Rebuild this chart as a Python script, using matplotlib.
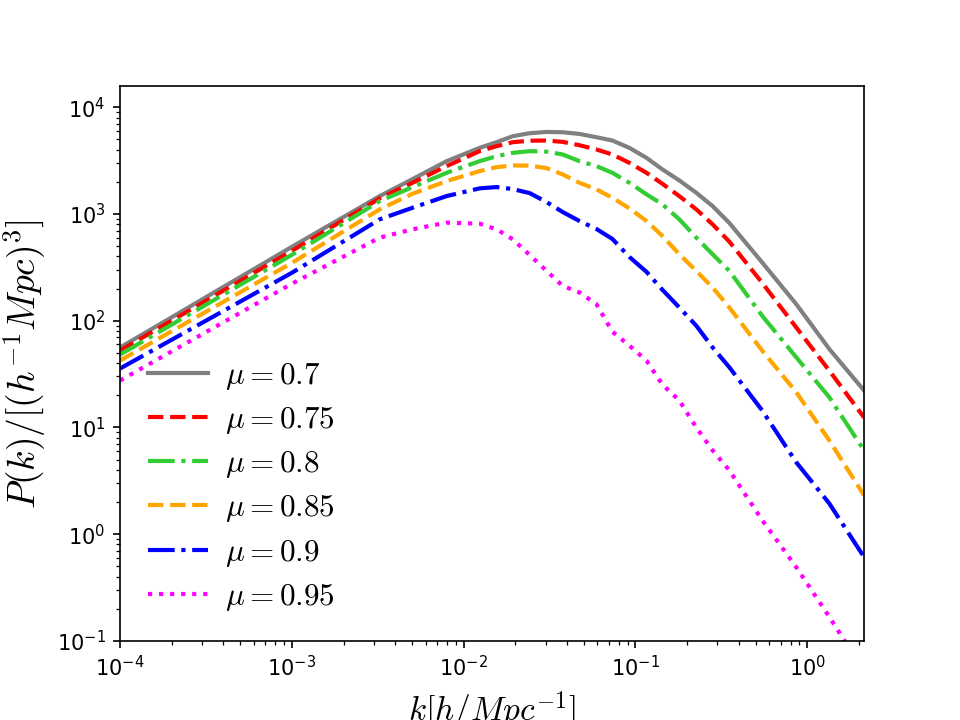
import numpy as np
import matplotlib.pyplot as plt

plt.rcParams['mathtext.fontset'] = 'cm'

# wavenumber grid k [h/Mpc]
k = [1e-4, 1e-3, 0.00325, 0.00505, 0.00796, 0.0124, 0.01556, 0.0193, 0.0242,
     0.0304, 0.0377, 0.0472, 0.0593, 0.0734, 0.0922, 0.116, 0.1435, 0.180,
     0.226, 0.281, 0.352, 0.547, 0.863, 1.343, 2.14]

p_070 = [56.0, 492, 1472, 2124, 3128, 4168, 4710, 5357, 5715, 5876, 5838, 5627,
         5245, 4884, 4168, 3360, 2618, 2065, 1581, 1188, 824, 351, 143, 54.4, 22.2]
p_075 = [52.4, 451, 1402, 1963, 2811, 3881, 4322, 4710, 4864, 4884, 4742, 4414,
         4024, 3614, 3015, 2432, 1919, 1472, 1106, 801, 551, 226, 86.5, 34.1, 12.4]
p_080 = [48.1, 414, 1322, 1788, 2432, 3128, 3483, 3741, 3881, 3838, 3614, 3128,
         2811, 2432, 1963, 1528, 1233, 892, 601, 420, 293, 111, 45.4, 19.2, 6.10]
p_085 = [42.3, 348, 1106, 1549, 2034, 2523, 2749, 2851, 2840, 2692, 2350, 1963,
         1702, 1419, 1130, 860, 623, 420, 293, 205, 133, 52.4, 21.4, 7.56, 2.31]
p_090 = [35.6, 281, 892, 1145, 1472, 1739, 1788, 1713, 1571, 1294, 1044, 860,
         724, 584, 396, 287, 195, 133, 89.8, 56.3, 36.6, 14.4, 4.71, 1.94, 0.61]
p_095 = [27.5, 222, 601, 719, 830, 811, 719, 580, 414, 293, 212, 184,
         143, 78.9, 58.4, 42.3, 25.2, 17.9, 10.0, 6.10, 3.96, 1.35, 0.49, 0.168, 0.052]

labels = [r'$\mu=0.7$', r'$\mu=0.75$', r'$\mu=0.8$', r'$\mu=0.85$', r'$\mu=0.9$', r'$\mu=0.95$']

fig = plt.figure(figsize=(6.4, 4.8), dpi=150)
ax = fig.add_subplot(111)
ax.plot(k, p_070, color='gray', ls='-', lw=2, label=labels[0])
ax.plot(k, p_075, color='red', ls='--', lw=2, label=labels[1])
ax.plot(k, p_080, color='limegreen', ls='-.', lw=2, label=labels[2])
ax.plot(k, p_085, color='orange', ls='--', lw=2, label=labels[3])
ax.plot(k, p_090, color='blue', ls='-.', lw=2, label=labels[4])
ax.plot(k, p_095, color='magenta', ls=':', lw=2, label=labels[5])

ax.set_xscale('log')
ax.set_yscale('log')
ax.set_xlim(1e-4, 2.14)
ax.set_ylim(1e-1, 1.57e4)
ax.set_xlabel(r'$k[h/Mpc^{-1}]$', fontsize=16)
ax.set_ylabel(r'$P(k)/[(h^{-1}Mpc)^3]$', fontsize=18)
ax.legend(loc='lower left', frameon=False, fontsize=15, labelspacing=0.42,
          handlelength=1.9, handletextpad=0.55)

plt.savefig('out.png')
